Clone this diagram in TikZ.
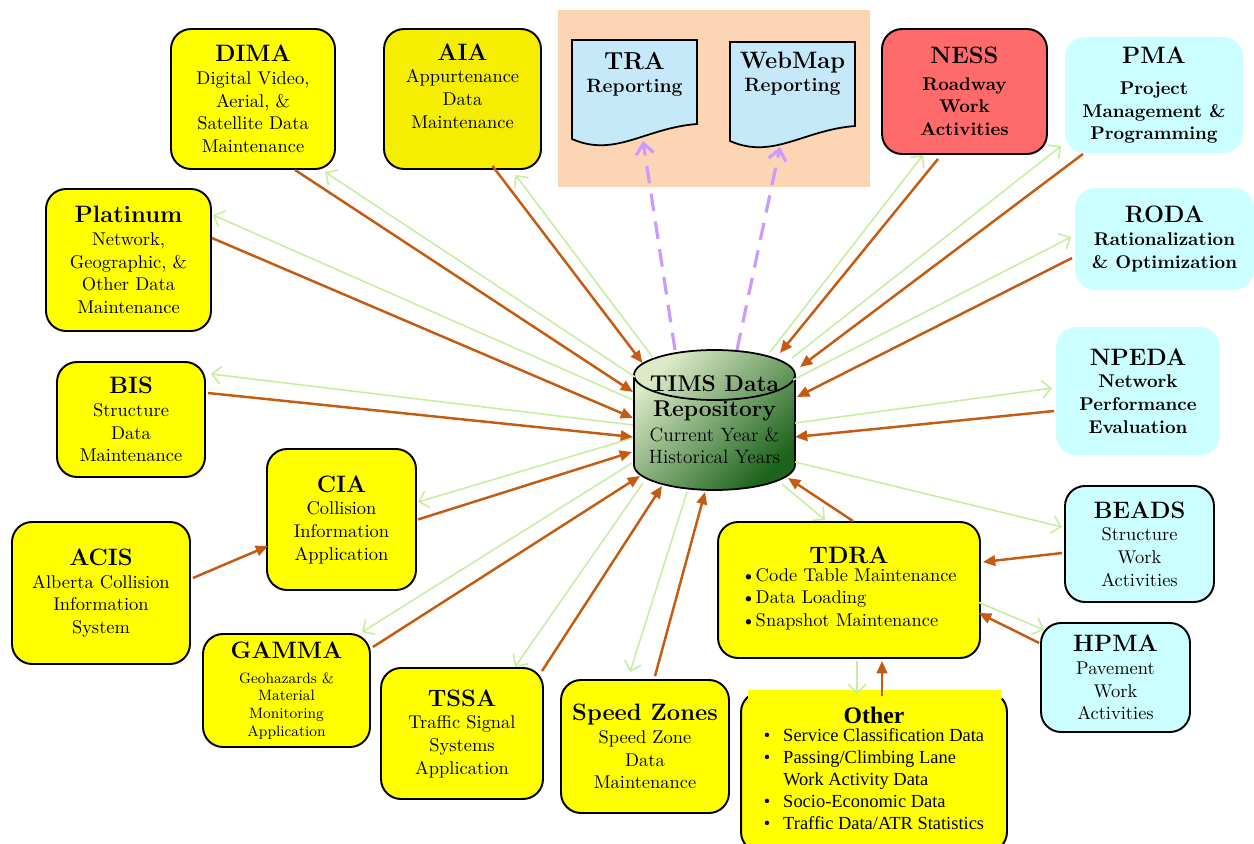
\documentclass[tikz,border=0pt]{standalone}
\usepackage{fontspec}
\usetikzlibrary{arrows.meta}

\newfontfamily\timesfont{Liberation Serif}

\definecolor{boxyellow}{RGB}{255,255,0}
\definecolor{aiayellow}{RGB}{246,238,0}
\definecolor{lightcyan}{RGB}{204,255,255}
\definecolor{nessred}{RGB}{255,106,106}
\definecolor{peach}{RGB}{252,213,181}
\definecolor{docblue}{RGB}{197,233,249}
\definecolor{feedorange}{RGB}{197,90,17}
\definecolor{feedgreen}{RGB}{199,238,160}
\definecolor{reportpurple}{RGB}{204,153,255}
\definecolor{cyllight}{RGB}{220,234,200}
\definecolor{cyldark}{RGB}{28,100,28}

\newcommand{\boxtitle}[1]{{\fontsize{13.5}{15}\selectfont\bfseries #1}}

\begin{document}
\begin{tikzpicture}[
  x=0.02cm, y=-0.02cm,
  ybox/.style={draw, line width=1.1pt, rounded corners=0.4cm, fill=boxyellow, align=center,
    font=\fontsize{10.5}{12.9}\selectfont},
  cbox/.style={ybox, fill=lightcyan},
  cplain/.style={cbox, draw=none, font=\fontsize{10.5}{12.9}\selectfont\bfseries},
  doctext/.style={align=center, font=\fontsize{11}{13}\selectfont\bfseries},
  push/.style={draw=feedorange, line width=1.4pt, -{Triangle[length=7pt,width=6pt]}},
  pull/.style={draw=feedgreen, line width=0.9pt, -{Straight Barb[length=5pt,width=10pt]}},
  report/.style={draw=reportpurple, line width=1.8pt, dash pattern=on 10pt off 6pt,
    -{Straight Barb[length=6pt,width=10pt]}}
]
\useasboundingbox (0,0) rectangle (1254,844);

% Reporting group
\node[fill=peach, minimum width=6.24cm, minimum height=3.54cm] (rep) at (714,98.5) {};
\filldraw[fill=docblue, line width=1pt] (572,40) -- (697,40) -- (697,124)
  .. controls (645,128) and (615,158) .. (572,139) -- cycle;
\filldraw[fill=docblue, line width=1pt] (730,42) -- (855,42) -- (855,126)
  .. controls (803,130) and (773,160) .. (730,141) -- cycle;
\node[doctext] (tra) at (634.5,74) {{\fontsize{14}{16}\selectfont TRA}\\ Reporting};
\node[doctext] (webmap) at (792.5,74) {{\fontsize{13.5}{16}\selectfont WebMap}\\ Reporting};

% Systems
\node[ybox, minimum width=3.28cm, minimum height=2.8cm] (dima) at (253,99)
  {\boxtitle{DIMA}\\ Digital Video,\\ Aerial, \&\\ Satellite Data\\ Maintenance};
\node[ybox, fill=aiayellow, minimum width=3.14cm, minimum height=2.8cm] (aia) at (462.5,99)
  {\boxtitle{AIA}\\ Appurtenance\\ Data\\ Maintenance\\[2pt]};
\node[ybox, fill=nessred, minimum width=3.3cm, minimum height=2.5cm,
  font=\fontsize{10.5}{12.9}\selectfont\bfseries] (ness) at (964.5,91.5)
  {\boxtitle{NESS}\\[2pt] Roadway\\ Work\\ Activities};
\node[cplain, minimum width=3.56cm, minimum height=2.32cm] (pma) at (1154,95)
  {\boxtitle{PMA}\\[5pt] Project\\ Management \&\\ Programming};
\node[cplain, minimum width=3.58cm, minimum height=2.04cm] (roda) at (1164.5,239)
  {\boxtitle{RODA}\\ Rationalization\\ \& Optimization};
\node[cplain, minimum width=3.28cm, minimum height=2.56cm] (npeda) at (1138,391)
  {\boxtitle{NPEDA}\\ Network\\ Performance\\ Evaluation};
\node[ybox, minimum width=3.3cm, minimum height=2.84cm] (plat) at (128.5,260)
  {\boxtitle{Platinum}\\ Network,\\ Geographic, \&\\ Other Data\\ Maintenance};
\node[ybox, minimum width=2.96cm, minimum height=2.3cm] (bis) at (131,419.5)
  {\boxtitle{BIS}\\ Structure\\ Data\\ Maintenance};
\node[ybox, minimum width=2.98cm, minimum height=2.82cm] (cia) at (341.5,519.5)
  {\boxtitle{CIA}\\ Collision\\ Information\\ Application};
\node[ybox, minimum width=3.56cm, minimum height=2.84cm] (acis) at (101,593)
  {\boxtitle{ACIS}\\ Alberta Collision\\ Information\\ System};
\node[ybox, minimum width=3.34cm, minimum height=2.26cm, font=\fontsize{8.5}{10}\selectfont] (gamma) at (286.5,690.5)
  {\boxtitle{GAMMA}\\[4pt] Geohazards \&\\ Material\\ Monitoring\\ Application};
\node[ybox, minimum width=3.24cm, minimum height=2.62cm] (tssa) at (462,733.5)
  {\boxtitle{TSSA}\\ Traffic Signal\\ Systems\\ Application};
\node[ybox, minimum width=3.36cm, minimum height=2.66cm] (speed) at (645,746.5)
  {\boxtitle{Speed Zones}\\ Speed Zone\\ Data\\ Maintenance};
\node[ybox, minimum width=5.24cm, minimum height=2.72cm] (tdra) at (849,590)
  {\boxtitle{TDRA}\\
   \begin{tabular}{@{}l@{}}
   \textbullet Code Table Maintenance\\ \textbullet Data Loading\\ \textbullet Snapshot Maintenance
   \end{tabular}};
\node[cbox, minimum width=2.98cm, minimum height=2.32cm] (beads) at (1139.5,544)
  {\boxtitle{BEADS}\\ Structure\\ Work\\ Activities};
\node[cbox, minimum width=2.98cm, minimum height=2.18cm] (hpma) at (1115.5,677.5)
  {\boxtitle{HPMA}\\ Pavement\\ Work\\ Activities};
\node[ybox, minimum width=5.32cm, minimum height=3.2cm, font=\timesfont\fontsize{10.5}{12.6}\selectfont] (other) at (874,772)
  {{\fontsize{13.5}{15}\selectfont\bfseries Other}\\
   \begin{tabular}{@{}l@{\hspace{0.7em}}l@{}}
   \textbullet & Service Classification Data\\
   \textbullet & Passing/Climbing Lane\\
               & Work Activity Data\\
   \textbullet & Socio-Economic Data\\
   \textbullet & Traffic Data/ATR Statistics
   \end{tabular}};
\fill[boxyellow] (748,690) rectangle (1002,699);

% Repository
\fill[left color=cyllight, right color=cyldark, shading angle=45]
  (634,375) -- (634,465) arc[start angle=180, end angle=360, x radius=1.61cm, y radius=0.5cm]
  -- (795,375) arc[start angle=0, end angle=180, x radius=1.61cm, y radius=0.5cm] -- cycle;
\draw[line width=1pt] (634,375) -- (634,465)
  arc[start angle=180, end angle=360, x radius=1.61cm, y radius=0.5cm] -- (795,375);
\draw[line width=1pt] (714.5,375) ellipse[x radius=1.61cm, y radius=0.5cm];
\node[align=center, font=\fontsize{11}{13}\selectfont, minimum width=3.22cm, minimum height=2.8cm] (tims) at (714.5,420)
  {{\fontsize{13}{15}\selectfont\bfseries TIMS Data}\\[1pt]
   {\fontsize{13}{15}\selectfont\bfseries Repository}\\[1pt] Current Year \&\\ Historical Years};

% Data flows
\draw[push] ([shift={(42,0)}]dima.south) -- ([shift={(-81.5,-28)}]tims.center);
\draw[pull] ([shift={(-79.5,-43)}]tims.center) -- ([shift={(72,2)}]dima.south);
\draw[push] ([shift={(30,-4)}]aia.south) -- ([shift={(-72,-57)}]tims.center);
\draw[pull] ([shift={(-62,-63)}]tims.center) -- ([shift={(53,5)}]aia.south);
\draw[push] ([shift={(0,-22)}]plat.east) -- ([shift={(-81.5,-2)}]tims.center);
\draw[pull] ([shift={(-81.5,-20)}]tims.center) -- ([shift={(1,-45)}]plat.east);
\draw[push] ([shift={(2,-26.5)}]bis.east) -- ([shift={(-81.5,17)}]tims.center);
\draw[pull] ([shift={(-81.5,5)}]tims.center) -- ([shift={(5,-45.5)}]bis.east);
\draw[push] ([shift={(1,0)}]cia.east) -- ([shift={(-82.5,32)}]tims.center);
\draw[pull] ([shift={(-81.5,18)}]tims.center) -- ([shift={(1,-17.5)}]cia.east);
\draw[push] ([shift={(2,-15)}]acis.east) -- ([shift={(2,26.5)}]cia.west);
\draw[push] ([shift={(2,-43.5)}]gamma.east) -- ([shift={(-74.5,56)}]tims.center);
\draw[pull] ([shift={(-82.5,43)}]tims.center) -- ([shift={(75.5,-1)}]gamma.north);
\draw[push] ([shift={(80,4)}]tssa.north) -- ([shift={(-52.5,66)}]tims.center);
\draw[pull] ([shift={(-71.5,63)}]tims.center) -- ([shift={(53,0)}]tssa.north);
\draw[push] ([shift={(10,-3)}]speed.north) -- ([shift={(-9.5,72)}]tims.center);
\draw[pull] ([shift={(-27.5,72)}]tims.center) -- ([shift={(-15,-7)}]speed.north);
\draw[push] ([shift={(4,0)}]tdra.north) -- ([shift={(73.5,58)}]tims.center);
\draw[pull] ([shift={(67.5,64)}]tims.center) -- ([shift={(-24,-1)}]tdra.north);
\draw[pull] ([shift={(80.5,42)}]tims.center) -- ([shift={(-2,-17)}]beads.west);
\draw[push] ([shift={(-2,9)}]beads.west) -- ([shift={(2,-28)}]tdra.east);
\draw[push] ([shift={(-1,-34.5)}]hpma.west) -- ([shift={(-2,23)}]tdra.east);
\draw[pull] ([shift={(-3,12)}]tdra.east) -- ([shift={(4,-47.5)}]hpma.west);
\draw[pull] ([shift={(80.5,3)}]tims.center) -- ([shift={(-3,-3)}]npeda.west);
\draw[push] ([shift={(-1,20)}]npeda.west) -- ([shift={(80.5,17)}]tims.center);
\draw[pull] ([shift={(78.5,-40)}]tims.center) -- ([shift={(-3,-2)}]roda.west);
\draw[push] ([shift={(-2,19)}]roda.west) -- ([shift={(82.5,-23)}]tims.center);
\draw[pull] ([shift={(77.5,-62)}]tims.center) -- ([shift={(-3,51)}]pma.west);
\draw[push] ([shift={(-71,0)}]pma.south) -- ([shift={(85.5,-53)}]tims.center);
\draw[push] ([shift={(-26.5,4)}]ness.south) -- ([shift={(65.5,-67)}]tims.center);
\draw[pull] ([shift={(55.5,-68)}]tims.center) -- ([shift={(-41.5,0)}]ness.south);
\draw[pull] ([shift={(8,2)}]tdra.south) -- ([shift={(-17,3)}]other.north);
\draw[push] ([shift={(8,5)}]other.north) -- ([shift={(33,2)}]tdra.south);

% Reporting
\draw[report] ([shift={(-39.5,-70)}]tims.center) -- ([shift={(8.5,67)}]tra.center);
\draw[report] ([shift={(22.5,-70)}]tims.center) -- ([shift={(-12.5,73)}]webmap.center);

\end{tikzpicture}
\end{document}
